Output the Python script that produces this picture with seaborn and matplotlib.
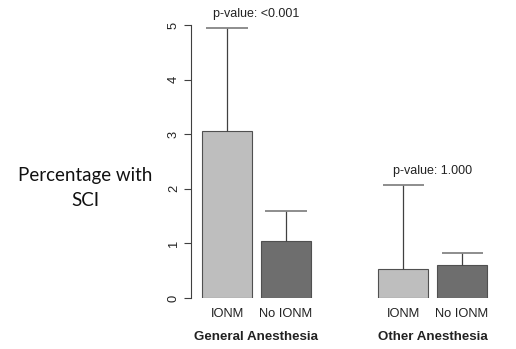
import matplotlib
matplotlib.use("Agg")
import matplotlib.pyplot as plt
import matplotlib.transforms as mtransforms
import seaborn as sns
import pandas as pd
import numpy as np

groups = ["General Anesthesia", "General Anesthesia", "Other Anesthesia", "Other Anesthesia"]
monitoring = ["IONM", "No IONM", "IONM", "No IONM"]
values = [3.05, 1.05, 0.53, 0.60]
upper = [4.95, 1.59, 2.07, 0.83]
group_names = ["General Anesthesia", "Other Anesthesia"]
p_values = ["p-value: <0.001", "p-value: 1.000"]
y_ticks = [0, 1, 2, 3, 4, 5]

df = pd.DataFrame({"group": groups, "monitoring": monitoring, "value": values})

sns.set_style("white")
plt.rcParams["font.family"] = ["Liberation Sans", "DejaVu Sans"]

fig = plt.figure(figsize=(5.16, 3.49), dpi=100)
ax = fig.add_axes([191 / 516, 51 / 349, (500 - 191) / 516, (298 - 25) / 349])

sns.barplot(data=df, x="group", y="value", hue="monitoring", order=group_names,
            hue_order=["IONM", "No IONM"], palette=["#BEBEBE", "#6E6E6E"],
            width=0.67, gap=0.15, edgecolor="#505050", linewidth=0.8,
            errorbar=None, legend=False, ax=ax, saturation=1)

ax.set_ylim(0, 5)
ax.set_xlim(-0.372, 1.383)

# bar geometry from seaborn patches
patches = sorted([p for p in ax.patches if p.get_width() > 0], key=lambda p: p.get_x())
centers = [p.get_x() + p.get_width() / 2 for p in patches]
cap_half = patches[0].get_width() * 0.41
for c, v, u in zip(centers, values, upper):
    ax.vlines(c, v, u, color="#404040", linewidth=0.9, zorder=3)
    ax.hlines(u, c - cap_half, c + cap_half, color="#7a7a7a", linewidth=1.2, zorder=3)

# p-value labels above the higher error bar in each group
for gi, (g, ptxt) in enumerate(zip(group_names, p_values)):
    top = max(u for u, gg in zip(upper, groups) if gg == g)
    ax.annotate(ptxt, xy=(gi, top), xytext=(0, 10), textcoords="offset points",
                ha="center", va="center", fontsize=9, color="#222222",
                annotation_clip=False)

# x labels
ax.set_xticks(centers)
ax.set_xticklabels(monitoring, fontsize=9.3, color="#222222")
ax.tick_params(axis="x", length=0, pad=7)
trans = mtransforms.blended_transform_factory(ax.transData, ax.transAxes)
for gi, g in enumerate(group_names):
    ax.text(gi, -0.13 - 4 / 273, g, transform=trans, ha="center", va="center",
            fontsize=9.6, fontweight="bold", color="#222222")

# y axis in R style
ax.set_yticks(y_ticks)
ax.set_yticklabels([str(t) for t in y_ticks], rotation=90, va="center",
                   fontsize=9.3, color="#222222")
ax.tick_params(axis="y", length=5, width=0.8, color="#404040", pad=3, left=True)
for s in ["top", "right", "bottom"]:
    ax.spines[s].set_visible(False)
ax.spines["left"].set_bounds(0, 5)
ax.spines["left"].set_color("#404040")
ax.spines["left"].set_linewidth(0.8)
ax.set_xlabel("")
ax.set_ylabel("")

fig.text(85 / 516, 1 - 176 / 349, "Percentage with", ha="center", va="center",
         fontsize=13.5, family=["Lato", "DejaVu Sans"], color="#111111")
fig.text(85 / 516, 1 - 200 / 349, "SCI", ha="center", va="center",
         fontsize=13.5, family=["Lato", "DejaVu Sans"], color="#111111")

fig.savefig("out.png", dpi=100)
